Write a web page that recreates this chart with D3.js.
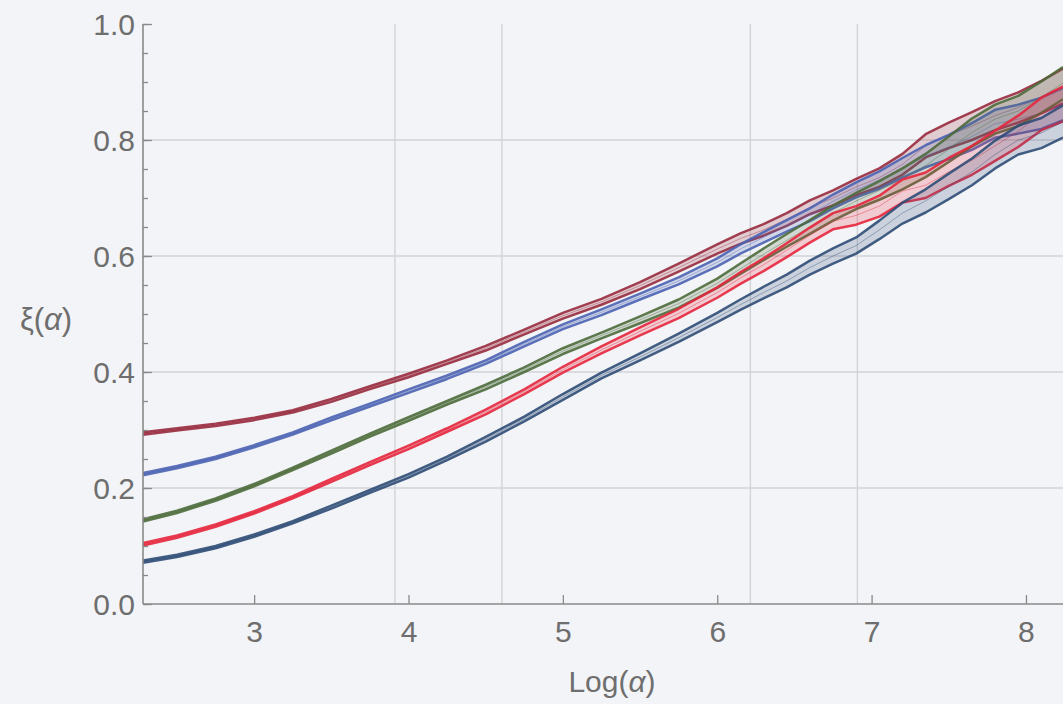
<!DOCTYPE html>
<html>
<head>
<meta charset="utf-8">
<script src="https://cdn.jsdelivr.net/npm/d3@7"></script>
<style>
  html, body { margin: 0; padding: 0; background: #f3f4f7; }
  svg { display: block; }
  text { font-family: "Liberation Sans", Arial, sans-serif; fill: #6e6e6e; }
</style>
</head>
<body>
<svg id="chart" width="1063" height="704"></svg>
<script>
// Sample positions along Log(α)
const logAlpha = [2.28, 2.5, 2.75, 3.0, 3.25, 3.5, 3.75, 4.0, 4.25, 4.5, 4.75, 5.0, 5.25, 5.5, 5.75, 6.0,
                  6.15, 6.3, 6.45, 6.6, 6.75, 6.9, 7.05, 7.2, 7.35, 7.5, 7.65, 7.8, 7.95, 8.1, 8.24];

// Mean ξ(α) for each series
const darkRedMean = [0.294, 0.301, 0.309, 0.319, 0.332, 0.351, 0.373, 0.394, 0.417, 0.441, 0.469, 0.497, 0.521, 0.549, 0.580, 0.612,
                     0.630, 0.645, 0.663, 0.684, 0.700, 0.719, 0.735, 0.758, 0.790, 0.808, 0.824, 0.842, 0.856, 0.874, 0.893];
const blueMean    = [0.224, 0.236, 0.252, 0.272, 0.294, 0.319, 0.343, 0.367, 0.391, 0.417, 0.448, 0.478, 0.503, 0.530, 0.557, 0.589,
                     0.612, 0.632, 0.652, 0.671, 0.694, 0.714, 0.731, 0.752, 0.772, 0.788, 0.806, 0.828, 0.836, 0.846, 0.862];
const greenMean   = [0.144, 0.159, 0.180, 0.205, 0.233, 0.262, 0.291, 0.319, 0.347, 0.374, 0.404, 0.436, 0.463, 0.490, 0.518, 0.553,
                     0.578, 0.603, 0.627, 0.650, 0.674, 0.695, 0.713, 0.733, 0.756, 0.784, 0.813, 0.836, 0.850, 0.874, 0.898];
const redMean     = [0.103, 0.116, 0.135, 0.158, 0.184, 0.213, 0.242, 0.270, 0.300, 0.331, 0.366, 0.404, 0.438, 0.470, 0.501, 0.537,
                     0.562, 0.585, 0.610, 0.636, 0.660, 0.670, 0.686, 0.712, 0.722, 0.745, 0.765, 0.790, 0.815, 0.845, 0.862];
const navyMean    = [0.073, 0.083, 0.098, 0.118, 0.141, 0.167, 0.194, 0.221, 0.251, 0.284, 0.319, 0.357, 0.394, 0.426, 0.459, 0.494,
                     0.516, 0.537, 0.557, 0.580, 0.600, 0.618, 0.645, 0.674, 0.695, 0.720, 0.745, 0.775, 0.800, 0.812, 0.832];

// Half-width of the uncertainty band around each mean
const darkRedSpread = [0.002, 0.002, 0.002, 0.002, 0.002, 0.0025, 0.0025, 0.003, 0.003, 0.004, 0.004, 0.005, 0.005, 0.006, 0.007, 0.008,
                       0.009, 0.010, 0.011, 0.012, 0.013, 0.014, 0.016, 0.018, 0.020, 0.022, 0.024, 0.025, 0.026, 0.028, 0.030];
const blueSpread    = [0.002, 0.002, 0.002, 0.002, 0.002, 0.0025, 0.0025, 0.003, 0.003, 0.003, 0.004, 0.004, 0.005, 0.005, 0.006, 0.007,
                       0.008, 0.009, 0.010, 0.011, 0.012, 0.013, 0.015, 0.017, 0.019, 0.021, 0.023, 0.024, 0.025, 0.027, 0.028];
const greenSpread   = [0.002, 0.002, 0.002, 0.002, 0.002, 0.0025, 0.0025, 0.003, 0.003, 0.004, 0.004, 0.005, 0.005, 0.006, 0.007, 0.008,
                       0.009, 0.010, 0.011, 0.012, 0.013, 0.014, 0.016, 0.018, 0.020, 0.022, 0.024, 0.025, 0.026, 0.027, 0.028];
const redSpread     = [0.002, 0.002, 0.002, 0.002, 0.002, 0.0025, 0.0025, 0.003, 0.003, 0.004, 0.004, 0.005, 0.006, 0.007, 0.008, 0.009,
                       0.010, 0.011, 0.012, 0.013, 0.014, 0.016, 0.018, 0.020, 0.022, 0.024, 0.025, 0.026, 0.027, 0.028, 0.030];
const navySpread    = [0.002, 0.002, 0.002, 0.002, 0.002, 0.0025, 0.0025, 0.003, 0.003, 0.004, 0.004, 0.005, 0.005, 0.006, 0.007, 0.008,
                       0.009, 0.010, 0.011, 0.012, 0.013, 0.014, 0.016, 0.018, 0.020, 0.022, 0.023, 0.024, 0.025, 0.026, 0.028];

const seriesColors = ["#982b3e", "#4b63b3", "#4d6b3b", "#e6263d", "#2f4d76"];

// Tick values and grid positions
const xTicks = [3, 4, 5, 6, 7, 8];
const yTicks = [0.0, 0.2, 0.4, 0.6, 0.8, 1.0];
const yMinorTicks = d3.range(0, 1.0001, 0.05);
const xGrid = [Math.log(50), Math.log(100), Math.log(500), Math.log(1000)];
const yGrid = [0.2, 0.4, 0.6, 0.8];

(function draw() {
  const series = [
    { mean: darkRedMean, spread: darkRedSpread, color: seriesColors[0] },
    { mean: blueMean,    spread: blueSpread,    color: seriesColors[1] },
    { mean: greenMean,   spread: greenSpread,   color: seriesColors[2] },
    { mean: redMean,     spread: redSpread,     color: seriesColors[3] },
    { mean: navyMean,    spread: navySpread,    color: seriesColors[4] }
  ];

  const svg = d3.select("#chart");
  const W = 1063, H = 704;
  const mLeft = 143, mRight = 1063, mTop = 24, mBottom = 604;

  const x = d3.scaleLinear().domain([2.28, 8.24]).range([mLeft, mRight]);
  const y = d3.scaleLinear().domain([0, 1]).range([mBottom, mTop]);

  svg.append("rect").attr("width", W).attr("height", H).attr("fill", "#f3f4f7");

  // Grid
  const grid = svg.append("g").attr("stroke", "#d2d3d7").attr("stroke-width", 1.4);
  grid.selectAll("line.v").data(xGrid).join("line").attr("class", "v")
    .attr("x1", d => x(d)).attr("x2", d => x(d))
    .attr("y1", y(1)).attr("y2", y(0));
  grid.selectAll("line.h").data(yGrid).join("line").attr("class", "h")
    .attr("x1", x(2.28)).attr("x2", x(8.24))
    .attr("y1", d => y(d)).attr("y2", d => y(d));

  // Bands
  svg.append("clipPath").attr("id", "plotClip")
    .append("rect").attr("x", mLeft).attr("y", 0).attr("width", mRight - mLeft).attr("height", mBottom);

  const plot = svg.append("g").attr("clip-path", "url(#plotClip)");

  series.forEach(s => {
    const pts = logAlpha.map((lx, i) => ({ x: lx, m: s.mean[i], lo: s.mean[i] - s.spread[i], hi: s.mean[i] + s.spread[i] }));
    const area = d3.area().x(d => x(d.x)).y0(d => y(d.lo)).y1(d => y(d.hi));
    const lineLo = d3.line().x(d => x(d.x)).y(d => y(d.lo));
    const lineHi = d3.line().x(d => x(d.x)).y(d => y(d.hi));
    const lineMid = d3.line().x(d => x(d.x)).y(d => y(d.m));
    const g = plot.append("g");
    g.append("path").attr("d", area(pts)).attr("fill", s.color).attr("fill-opacity", 0.2);
    g.append("path").attr("d", lineMid(pts)).attr("fill", "none")
      .attr("stroke", s.color).attr("stroke-opacity", 0.4).attr("stroke-width", 1);
    [lineLo, lineHi].forEach(fn => {
      g.append("path").attr("d", fn(pts)).attr("fill", "none")
        .attr("stroke", s.color).attr("stroke-width", 2.5).attr("stroke-opacity", 0.9)
        .attr("stroke-linejoin", "round");
    });
  });

  // Axes
  const axisColor = "#8a8a8a";
  const yMinor = svg.append("g").attr("transform", `translate(${mLeft},0)`)
    .call(d3.axisRight(y).tickValues(yMinorTicks).tickSize(5).tickFormat(""));
  yMinor.select(".domain").remove();
  yMinor.selectAll(".tick line").attr("stroke", axisColor).attr("stroke-width", 1.3);

  const yMajor = svg.append("g").attr("transform", `translate(${mLeft},0)`)
    .call(d3.axisRight(y).tickValues(yTicks).tickSize(9).tickFormat(d3.format(".1f")));
  yMajor.select(".domain").remove();
  yMajor.selectAll(".tick line").attr("stroke", axisColor).attr("stroke-width", 1.3);
  yMajor.selectAll(".tick text")
    .attr("x", -8).attr("dy", "0.36em").attr("text-anchor", "end")
    .style("font-size", "30px").style("fill", "#6e6e6e")
    .style("font-family", "'Liberation Sans', Arial, sans-serif");

  const xAxis = svg.append("g").attr("transform", `translate(0,${mBottom})`)
    .call(d3.axisTop(x).tickValues(xTicks).tickSize(9).tickFormat(d3.format("d")));
  xAxis.select(".domain").remove();
  xAxis.selectAll(".tick line").attr("stroke", axisColor).attr("stroke-width", 1.3);
  xAxis.selectAll(".tick text")
    .attr("y", 38).attr("dy", "0").attr("text-anchor", "middle")
    .style("font-size", "30px").style("fill", "#6e6e6e")
    .style("font-family", "'Liberation Sans', Arial, sans-serif");

  // Axis lines
  svg.append("line").attr("x1", mLeft).attr("x2", mLeft).attr("y1", mTop).attr("y2", mBottom)
    .attr("stroke", axisColor).attr("stroke-width", 1.6);
  svg.append("line").attr("x1", mLeft).attr("x2", mRight).attr("y1", mBottom).attr("y2", mBottom)
    .attr("stroke", axisColor).attr("stroke-width", 1.6);

  // Axis titles
  const yTitle = svg.append("text").attr("x", 46).attr("y", 330).attr("text-anchor", "middle")
    .style("font-size", "31px");
  yTitle.append("tspan").text("ξ(");
  yTitle.append("tspan").style("font-style", "italic").text("α");
  yTitle.append("tspan").text(")");

  const xTitle = svg.append("text").attr("x", 612).attr("y", 692).attr("text-anchor", "middle")
    .style("font-size", "30px");
  xTitle.append("tspan").text("Log(");
  xTitle.append("tspan").style("font-style", "italic").text("α");
  xTitle.append("tspan").text(")");
})();
</script>
</body>
</html>
